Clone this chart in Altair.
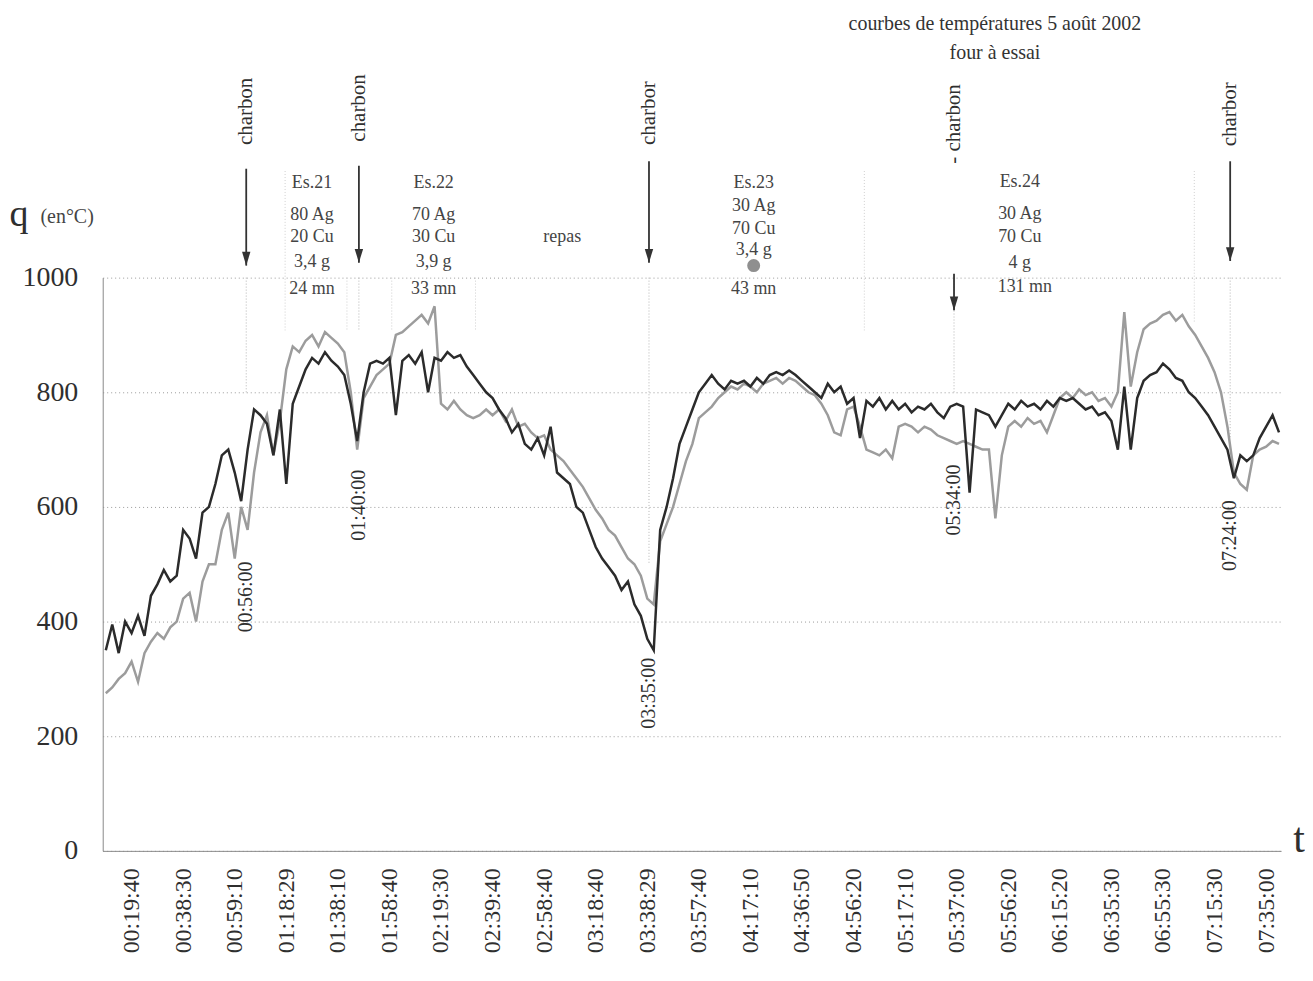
import altair as alt
import pandas as pd

# ---------------- data ----------------
tick_labels = ["00:19:40", "00:38:30", "00:59:10", "01:18:29", "01:38:10", "01:58:40",
               "02:19:30", "02:39:40", "02:58:40", "03:18:40", "03:38:29", "03:57:40",
               "04:17:10", "04:36:50", "04:56:20", "05:17:10", "05:37:00", "05:56:20",
               "06:15:20", "06:35:30", "06:55:30", "07:15:30", "07:35:00"]
tick_positions = list(range(1, 24))          # category position of each tick label
x_domain = [0.44, 23.29]
y_ticks = [0, 200, 400, 600, 800, 1000]

# samples: category position = x_first + i * x_step
x_first = 0.5
x_step = 0.125

dark = [
    350, 395, 345, 400, 380, 410, 375, 445, 465, 490,
    470, 480, 560, 545, 510, 590, 600, 640, 690, 700,
    660, 610, 700, 770, 760, 745, 690, 770, 640, 780,
    810, 840, 860, 850, 870, 855, 845, 830, 780, 715,
    800, 850, 855, 850, 860, 760, 855, 865, 850, 870,
    800, 860, 855, 870, 860, 865, 845, 830, 815, 800,
    790, 770, 755, 730, 745, 710, 700, 720, 690, 740,
    660, 650, 640, 600, 590, 560, 530, 510, 495, 480,
    455, 470, 430, 410, 370, 350, 560, 600, 650, 710,
    740, 770, 800, 815, 830, 815, 805, 820, 815, 820,
    810, 825, 815, 830, 835, 830, 838, 830, 820, 810,
    800, 790, 815, 800, 810, 780, 790, 720, 785, 775,
    790, 770, 785, 770, 780, 765, 775, 770, 780, 765,
    755, 775, 780, 775, 625, 770, 765, 760, 740, 760,
    780, 770, 785, 775, 780, 770, 785, 775, 790, 785,
    790, 780, 770, 775, 760, 765, 750, 700, 810, 700,
    790, 820, 830, 835, 850, 840, 825, 820, 800, 790,
    775, 760, 740, 720, 700, 650, 690, 680, 690, 720,
    740, 760, 730]

gray = [
    275, 285, 300, 310, 330, 295, 345, 365, 380, 370,
    390, 400, 440, 450, 400, 470, 500, 500, 560, 590,
    510, 600, 560, 660, 730, 760, 690, 750, 840, 880,
    870, 890, 900, 880, 905, 895, 885, 870, 800, 700,
    790, 810, 830, 840, 850, 900, 905, 915, 925, 935,
    920, 950, 780, 770, 785, 770, 760, 755, 760, 770,
    760, 770, 750, 770, 740, 745, 730, 720, 725, 700,
    690, 680, 665, 650, 635, 615, 595, 580, 560, 550,
    530, 510, 500, 480, 440, 430, 540, 570, 600, 640,
    680, 710, 755, 765, 775, 790, 800, 810, 805, 815,
    810, 800, 815, 820, 825, 815, 825, 820, 810, 800,
    795, 780, 760, 730, 725, 770, 775, 740, 700, 695,
    690, 700, 685, 740, 745, 740, 730, 740, 735, 725,
    720, 715, 710, 715, 710, 705, 700, 700, 580, 690,
    740, 750, 740, 755, 745, 750, 730, 760, 790, 800,
    790, 805, 795, 800, 785, 790, 775, 800, 940, 810,
    870, 910, 920, 925, 935, 940, 925, 935, 915, 900,
    880, 860, 835, 800, 740, 660, 640, 630, 690, 700,
    705, 715, 710]

# charcoal additions (events)
event_x = [3.223, 5.408, 11.033, 16.948, 22.303]
event_word = ["charbon", "charbon", "charbor", "- charbon", "charbor"]
event_word_y = [1290, 1296, 1287, 1268, 1285]
arrow_top = [1190, 1195, 1203, 1007, 1203]
arrow_tip = [1021, 1026, 1026, 943, 1029]
event_time = ["00:56:00", "01:40:00", "03:35:00", "05:34:00", "07:24:00"]
event_time_y = [443, 603, 275, 612, 550]
guide_bottom = [800, 908, 500, 800, 720]

# faint frames of the assay notes
frame_x = [3.977, 5.176, 6.045, 7.669, 15.209, 21.607]
frame_top = [1186, 1000, 1000, 1000, 1186, 1186]
frame_bottom = [908, 908, 908, 908, 908, 920]

# assay notes
note_x = [4.499, 6.857, 13.063, 18.224]
note_lines = [["Es.21", "80 Ag", "20 Cu", "3,4 g", "24 mn"],
              ["Es.22", "70 Ag", "30 Cu", "3,9 g", "33 mn"],
              ["Es.23", "30 Ag", "70 Cu", "3,4 g", "43 mn"],
              ["Es.24", "30 Ag", "70 Cu", "4 g", "131 mn"]]
note_y = [[1165, 1110, 1070, 1028, 981],
          [1165, 1110, 1070, 1028, 981],
          [1165, 1125, 1085, 1049, 981],
          [1167, 1111, 1070, 1026, 983]]
marker_x = [13.063]
marker_y = [1021]
repas_x = [9.351]
repas_y = [1071]

title_lines = ["courbes de températures 5 août 2002", "four à essai"]
title_x = [17.741, 17.741]
title_y = [1443, 1391]

FONT = "Liberation Serif"
INK = "#2f2f2f"

# ---------------- tables ----------------
df_dark = pd.DataFrame({"k": [x_first + i * x_step for i in range(len(dark))], "v": dark})
df_gray = pd.DataFrame({"k": [x_first + i * x_step for i in range(len(gray))], "v": gray})
df_arrows = pd.DataFrame({"k": event_x, "v": arrow_top, "v2": arrow_tip})
df_heads = pd.DataFrame({"k": event_x, "v": [t + 12 for t in arrow_tip]})
df_words = pd.DataFrame({"k": event_x, "v": event_word_y, "t": event_word})
df_times = pd.DataFrame({"k": event_x, "v": event_time_y, "t": event_time})
df_guides = pd.DataFrame({"k": event_x, "v": [1000] * len(event_x), "v2": guide_bottom})
df_frames = pd.DataFrame({"k": frame_x, "v": frame_top, "v2": frame_bottom})
notes_rows = []
for nx, lines, ys in zip(note_x, note_lines, note_y):
    for txt, yy in zip(lines, ys):
        kx = nx + 0.097 if txt == "131 mn" else nx
        notes_rows.append({"k": kx, "v": yy, "t": txt})
df_notes = pd.DataFrame(notes_rows)
df_repas = pd.DataFrame({"k": repas_x, "v": repas_y, "t": ["repas"]})
df_marker = pd.DataFrame({"k": marker_x, "v": marker_y})
df_title = pd.DataFrame({"k": title_x, "v": title_y, "t": title_lines})
df_q = pd.DataFrame({"k": [-1.184], "v": [1090], "t": ["q"]})
df_unit = pd.DataFrame({"k": [-0.25], "v": [1096], "t": ["(en°C)"]})
df_t = pd.DataFrame({"k": [23.637], "v": [-2], "t": ["t"]})

label_expr = "[" + ",".join("'%s'" % s for s in tick_labels) + "][datum.value - 1]"

X_AXIS = alt.Axis(values=tick_positions, labelExpr=label_expr, labelAngle=270,
                  labelPadding=17, labelFontSize=24, labelFont=FONT,
                  labelColor=INK, ticks=False, grid=False, domainColor="#8a8a8a",
                  title=None, labelOverlap=False, labelFlush=False)
Y_AXIS = alt.Axis(values=y_ticks, format="d", labelFontSize=28, labelFont=FONT, labelColor=INK,
                  labelPadding=25, ticks=False, grid=True, gridDash=[1, 3],
                  gridColor="#9a9a9a", domainColor="#8a8a8a", title=None,
                  labelOverlap=False, labelFlush=False)


def xe():
    return alt.X("k:Q", scale=alt.Scale(domain=x_domain, nice=False, zero=False), axis=X_AXIS)


def ye():
    return alt.Y("v:Q", scale=alt.Scale(domain=[0, 1000], nice=False, zero=True), axis=Y_AXIS)


gray_line = alt.Chart(df_gray).mark_line(color="#9c9c9c", strokeWidth=2.5).encode(x=xe(), y=ye())
dark_line = alt.Chart(df_dark).mark_line(color="#2b2b2b", strokeWidth=2.5).encode(x=xe(), y=ye())

guides = alt.Chart(df_guides).mark_rule(color="#b5b5b5", strokeDash=[1, 2], strokeWidth=1).encode(
    x=xe(), y=ye(), y2="v2:Q")
frames = alt.Chart(df_frames).mark_rule(color="#cfcfcf", strokeDash=[1, 2], strokeWidth=1).encode(
    x=xe(), y=ye(), y2="v2:Q")

arrows = alt.Chart(df_arrows).mark_rule(color="#333333", strokeWidth=1.8).encode(
    x=xe(), y=ye(), y2="v2:Q")
heads = alt.Chart(df_heads).mark_point(shape="M-0.6,-1L0.6,-1L0,1Z", filled=True, size=196,
                                       color="#333333", opacity=1).encode(x=xe(), y=ye())
words = alt.Chart(df_words).mark_text(font=FONT, fontSize=21, angle=270, align="center",
                                      baseline="middle", color=INK).encode(
    x=xe(), y=ye(), text="t:N")
times = alt.Chart(df_times).mark_text(font=FONT, fontSize=20, angle=270, align="center",
                                      baseline="middle", color=INK).encode(
    x=xe(), y=ye(), text="t:N")

notes = alt.Chart(df_notes).mark_text(font=FONT, fontSize=18, align="center", baseline="middle",
                                      color="#444444").encode(x=xe(), y=ye(), text="t:N")
repas = alt.Chart(df_repas).mark_text(font=FONT, fontSize=18, align="center", baseline="middle",
                                      color="#444444").encode(x=xe(), y=ye(), text="t:N")
marker = alt.Chart(df_marker).mark_point(shape="circle", filled=True, size=170, color="#8f8f8f",
                                         opacity=1).encode(x=xe(), y=ye())
title = alt.Chart(df_title).mark_text(font=FONT, fontSize=20, align="center", baseline="middle",
                                      color="#333333").encode(x=xe(), y=ye(), text="t:N")
q_txt = alt.Chart(df_q).mark_text(font=FONT, fontSize=38, align="center", baseline="alphabetic",
                                  color=INK).encode(x=xe(), y=ye(), text="t:N")
unit_txt = alt.Chart(df_unit).mark_text(font=FONT, fontSize=20, align="center",
                                        baseline="alphabetic", color="#444444").encode(
    x=xe(), y=ye(), text="t:N")
t_txt = alt.Chart(df_t).mark_text(font=FONT, fontSize=42, align="center", baseline="alphabetic",
                                  color=INK).encode(x=xe(), y=ye(), text="t:N")

chart = alt.layer(
    frames, guides, gray_line, dark_line, arrows, heads, words, times,
    notes, repas, marker, title, q_txt, unit_txt, t_txt
).properties(
    width=1182, height=575,
    autosize=alt.AutoSizeParams(type="none"),
    padding={"left": 95, "top": 269, "right": 24, "bottom": 110},
    background="white",
).configure_view(strokeWidth=0)

chart.save("out.html", embed_options={"renderer": "svg", "actions": False})
